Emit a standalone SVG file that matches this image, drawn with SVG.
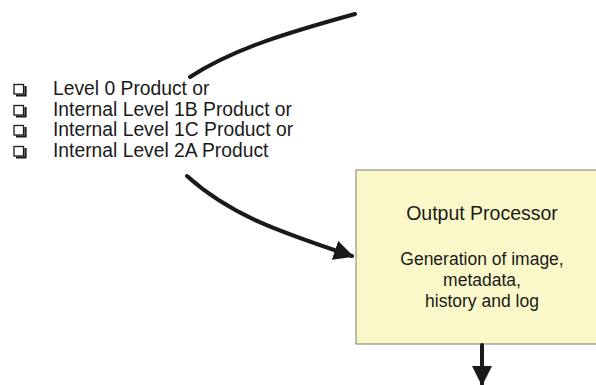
<svg xmlns="http://www.w3.org/2000/svg" width="596" height="385" viewBox="0 0 596 385">
  <style>
    .txt { font-family: "Liberation Sans", Arial, sans-serif; fill: #1a1a1a; }
    .item { font-size: 19.3px; }
    .title { font-size: 19.5px; text-anchor: middle; }
    .body { font-size: 17.5px; text-anchor: middle; }
    .conn { fill: none; stroke: #1a1a1a; stroke-width: 4; stroke-linecap: round; }
    .box { fill: #faf8c8; stroke: #7a7a72; stroke-width: 1; }
    .chk { fill: #fff; stroke: #1a1a1a; stroke-width: 1.3; }
    .shadow { fill: none; stroke: #1a1a1a; stroke-width: 2.2; }
  </style>
  <defs>
    <marker id="arrow" viewBox="0 0 10 10" refX="9" refY="5" markerWidth="5" markerHeight="5" markerUnits="strokeWidth" orient="auto">
      <path d="M0,0 L10,5 L0,10 z" fill="#1a1a1a"/>
    </marker>
  </defs>

  <rect width="596" height="385" fill="#fff"/>

  <!-- input product list -->
  <g id="inputs">
    <g id="check-icons">
      <path class="shadow" d="M16,95.5 h9.5 v-9.5"/>
      <rect class="chk" x="14" y="84.5" width="9.5" height="9.5"/>
      <path class="shadow" d="M16,116.5 h9.5 v-9.5"/>
      <rect class="chk" x="14" y="105.5" width="9.5" height="9.5"/>
      <path class="shadow" d="M16,136.5 h9.5 v-9.5"/>
      <rect class="chk" x="14" y="125.5" width="9.5" height="9.5"/>
      <path class="shadow" d="M16,157.5 h9.5 v-9.5"/>
      <rect class="chk" x="14" y="146.5" width="9.5" height="9.5"/>
    </g>
    <text class="txt item" x="53" y="95">Level 0 Product or</text>
    <text class="txt item" x="53" y="116">Internal Level 1B Product or</text>
    <text class="txt item" x="53" y="136">Internal Level 1C Product or</text>
    <text class="txt item" x="53" y="157">Internal Level 2A Product</text>
  </g>

  <!-- output processor -->
  <g id="output-processor">
    <rect class="box" x="356" y="170" width="245" height="174"/>
    <text class="txt title" x="482" y="220">Output Processor</text>
    <text class="txt body" x="482" y="265">Generation of image,</text>
    <text class="txt body" x="482" y="286">metadata,</text>
    <text class="txt body" x="482" y="307">history and log</text>
  </g>

  <!-- connectors -->
  <g id="connectors">
    <path class="conn" d="M355,14 C290,32 235,48 190,77"/>
    <path class="conn" d="M187,176 C230,215 280,232 352,256" marker-end="url(#arrow)"/>
    <path class="conn" d="M482,345 L482,384" marker-end="url(#arrow)" stroke-linecap="butt"/>
  </g>
</svg>
